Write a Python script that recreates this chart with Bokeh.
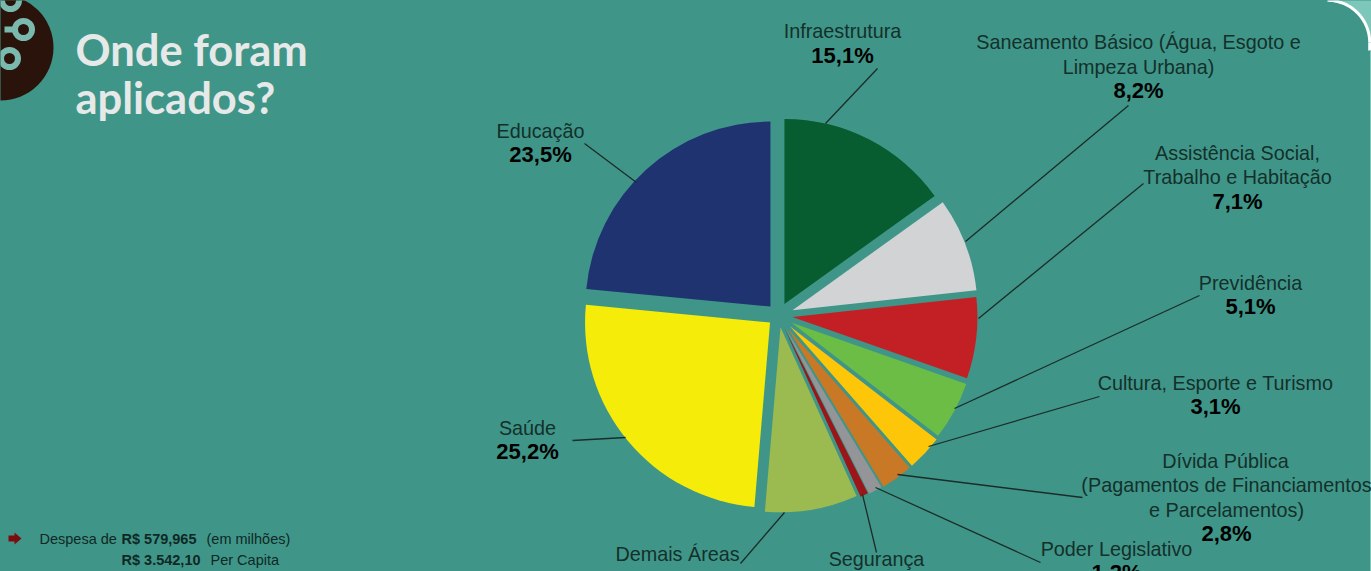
import numpy as np
from bokeh.plotting import figure
from bokeh.models import Range1d
from bokeh.core.properties import value
from bokeh.embed import file_html
from bokeh.resources import INLINE

W, H = 1371, 571
BG = "#3f9688"
INK = "#14302b"

# data
categories = ["Infraestrutura", "Saneamento", "Assistência", "Previdência", "Cultura", "Dívida",
              "Poder Legislativo", "Segurança", "Demais Áreas", "Saúde", "Educação"]
shares = [15.1, 8.2, 7.1, 5.1, 3.1, 2.8, 1.2, 0.7, 8.1, 25.2, 23.5]
colors = ["#075c30", "#d2d3d5", "#c32026", "#6cbd45", "#fdc608", "#c97825",
          "#939598", "#9b1519", "#9bbb50", "#f5ec0a", "#1f3371"]
explode = [13, 15, 14, 15, 16, 16, 15, 14, 12, 11, 12]

label_lines = [
    ("Infraestrutura", 842, 30), ("Saneamento Básico (Água, Esgoto e", 1138, 41), ("Limpeza Urbana)", 1138, 66),
    ("Assistência Social,", 1237, 152), ("Trabalho e Habitação", 1237, 176), ("Previdência", 1250, 282),
    ("Cultura, Esporte e Turismo", 1215, 382), ("Dívida Pública", 1225, 460),
    ("(Pagamentos de Financiamentos", 1226, 484), ("e Parcelamentos)", 1226, 509),
    ("Poder Legislativo", 1116, 548), ("Segurança", 876, 558), ("Demais Áreas", 677, 553),
    ("Saúde", 527, 427), ("Educação", 540, 130),
]
pct_pos = {0: (842, 55), 1: (1138, 90), 2: (1237, 201), 3: (1250, 306), 4: (1215, 406),
           5: (1226, 533), 6: (1116, 572), 9: (527, 451), 10: (540, 154)}
leaders = [
    ((877, 68), (825, 123)), ((1128, 105), (965, 241)), ((1143, 183), (978, 318)), ((1199, 295), (954, 408)),
    ((1099, 396), (928, 446)), ((1082, 497), (897, 474)), ((1040, 562), (875, 487)), ((876, 552), (862, 494)),
    ((740, 563), (784, 512)), ((572, 440), (625, 437)), ((584, 143), (636, 182)),
]
title_lines = [("Onde foram", 75, 48), ("aplicados?", 75, 96)]
foot = [("Despesa de", 39, 538, "normal"), ("R$ 579,965", 121, 538, "bold"), ("(em milhões)", 206, 538, "normal"),
        ("R$ 3.542,10", 121, 559, "bold"), ("Per Capita", 210, 559, "normal")]

def Y(py):
    return H - py

p = figure(width=W, height=H, x_range=Range1d(0, W), y_range=Range1d(0, H), min_border=0,
           toolbar_location=None, output_backend="svg", background_fill_color=BG,
           border_fill_color=BG, outline_line_color=None)
p.axis.visible = False
p.grid.visible = False

# rounded corner, top right
cx, cy, r = 1327, 42, 42.2
th = np.linspace(0, np.pi / 2, 40)
ax = cx + r * np.cos(th)
ay = cy - r * np.sin(th)
p.patch(list(ax) + [W + 2, W + 2], [Y(v) for v in ay] + [Y(-2), Y(cy)], fill_color="#7cc7b9", line_color=None)
p.line(list(ax), [Y(v) for v in ay], line_color="white", line_width=3)
p.line([1369.2, 1369.2], [Y(cy), Y(50)], line_color="white", line_width=3)
p.line([1370, 1370], [Y(50), Y(H)], line_color="#7cc7b9", line_width=1)

# badge
p.circle([0], [Y(47)], radius=53, fill_color="#2a130a", line_color=None)
p.line([4, 13], [Y(29), Y(29)], line_color="#7ab9ae", line_width=6)
p.circle([23, 9, 10], [Y(29), Y(58), Y(0)], radius=8.5, fill_color="#2a130a", line_color="#7ab9ae", line_width=6)

# pie
cum = np.cumsum([0] + shares) / sum(shares) * 2 * np.pi
pcx, pcy = 778, 315
for i, col in enumerate(colors):
    a0, a1 = cum[i], cum[i + 1]
    mid = (a0 + a1) / 2
    x0 = pcx + explode[i] * np.sin(mid)
    y0 = pcy - explode[i] * np.cos(mid)
    p.wedge([x0], [Y(y0)], radius=185, start_angle=np.pi / 2 - a1, end_angle=np.pi / 2 - a0,
            fill_color=col, line_color=None)

# leaders
for (a, b) in leaders:
    p.line([a[0], b[0]], [Y(a[1]), Y(b[1])], line_color="#1c2c29", line_width=1.3)

# labels
for t, x, y in label_lines:
    p.text([x], [Y(y)], text=[t], text_font=value("Liberation Sans"), text_font_size="19.8px",
           text_color=INK, text_align="center", text_baseline="middle")
for i, (x, y) in pct_pos.items():
    t = f"{shares[i]:.1f}".replace(".", ",") + "%"
    p.text([x], [Y(y)], text=[t], text_font=value("Liberation Sans"), text_font_size="22px", text_font_style="bold",
           text_color="#000000", text_align="center", text_baseline="middle")

# title
for t, x, y in title_lines:
    p.text([x], [Y(y)], text=[t], text_font=value("Lato"), text_font_size="43.5px", text_font_style="bold",
           text_color="#e6e9e8", text_align="left", text_baseline="middle")

# footer
for t, x, y, st in foot:
    p.text([x], [Y(y)], text=[t], text_font=value("Liberation Sans"), text_font_size="14.5px", text_font_style=st,
           text_color="#0f2825", text_align="left", text_baseline="middle")
p.patch([8, 14, 14, 21, 14, 14, 8], [Y(535), Y(535), Y(532), Y(538), Y(544), Y(541), Y(541)],
        fill_color="#7a0e0e", line_color=None)

html = file_html(p, INLINE)
html = html.replace("<head>", "<head><style>html,body{margin:0;padding:0;overflow:hidden;background:%s}</style>" % BG, 1)
open("out.html", "w").write(html)
